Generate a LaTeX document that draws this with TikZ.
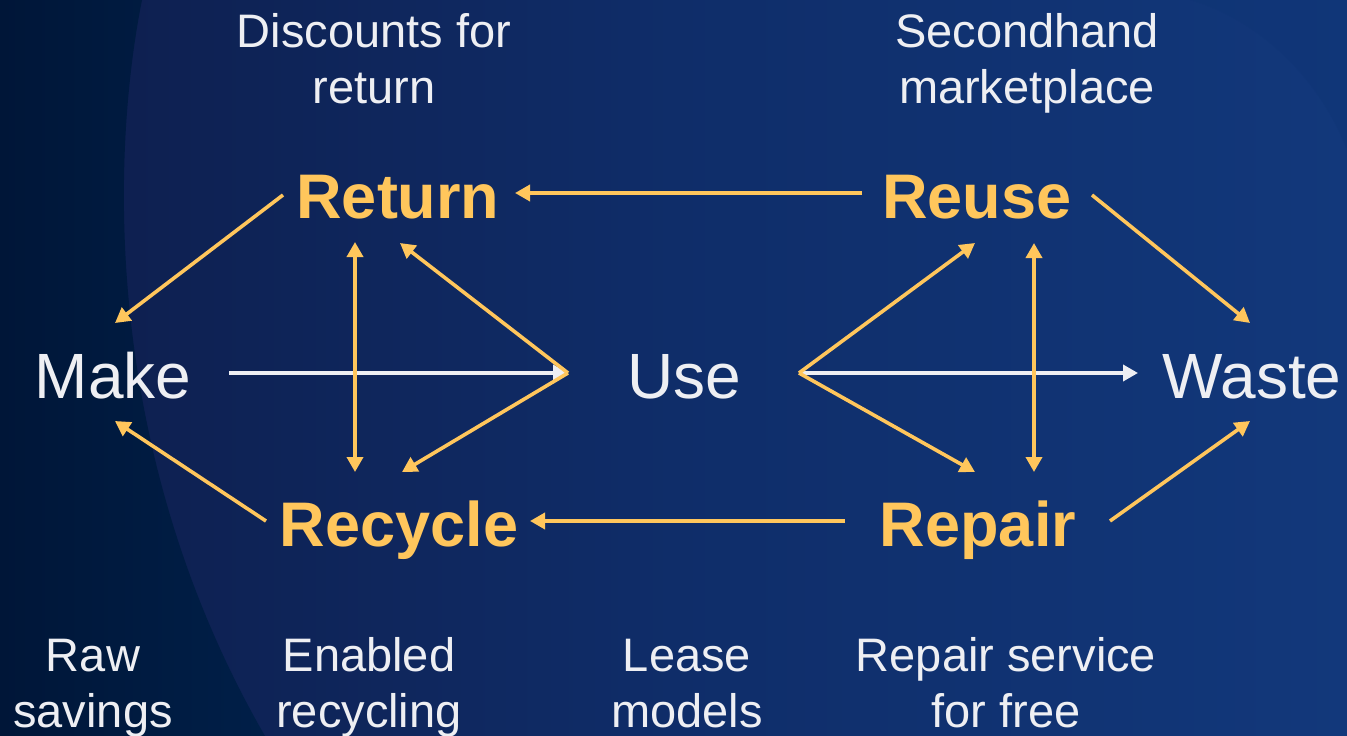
\documentclass[tikz,border=0pt]{standalone}
\usepackage{fontspec}
\setmainfont{Liberation Sans}
\usetikzlibrary{arrows.meta}
\definecolor{bgleft}{HTML}{0E1D4B}
\definecolor{bgmid}{HTML}{0F2D69}
\definecolor{bgright}{HTML}{12387B}
\definecolor{bgdarkA}{HTML}{001638}
\definecolor{bgdarkB}{HTML}{001F48}
\definecolor{bgcorner}{HTML}{0E3474}
\definecolor{gold}{HTML}{FFC65C}
\definecolor{paper}{HTML}{EEEFF3}
\tikzset{
  stage/.style={text=paper, font=\fontsize{64}{70}\selectfont, anchor=base, inner sep=0pt},
  loop/.style={text=gold, font=\fontsize{63}{70}\selectfont\bfseries, anchor=base, inner sep=0pt},
  note/.style={text=paper, font=\fontsize{47}{56}\selectfont, align=center, anchor=base, inner sep=0pt},
  flow/.style={draw=gold, line width=3.6pt, -{Triangle[length=15pt,width=16pt]}},
  both/.style={draw=gold, line width=3.6pt, {Triangle[length=15pt,width=16pt]}-{Triangle[length=15pt,width=16pt]}},
  main/.style={draw=paper, line width=3.6pt, -{Triangle[length=15pt,width=16pt]}}
}
\begin{document}
\begin{tikzpicture}[x=1pt,y=-1pt]
  % background
  \useasboundingbox (0,0) rectangle (1347,736);
  \shade[left color=bgleft, right color=bgright, middle color=bgmid]
    (0,0) rectangle (1347,736);
  \fill[bgcorner, opacity=0.35]
    (1190,0) .. controls (1260,20) and (1320,80) .. (1347,150) -- (1347,0) -- cycle;
  \shade[left color=bgdarkA, right color=bgdarkB]
    (0,0) -- (142,0) .. controls (112,150) and (100,450) .. (265,736) -- (0,736) -- cycle;

  % stages of the linear economy
  \node[stage] (make)  at (113,398) {Make};
  \node[stage] (use)   at (684,398) {Use};
  \node[stage] (waste) at (1252,398) {Waste};

  % circular loops
  \node[loop] (return)  at (398,218) {Return};
  \node[loop] (reuse)   at (977,218) {Reuse};
  \node[loop] (recycle) at (399,546) {Recycle};
  \node[loop] (repair)  at (978,546) {Repair};

  % business model notes
  \node[note] (ndisc)   at (374,103) {Discounts for\\return};
  \node[note] (nsecond) at (1027,103) {Secondhand\\marketplace};
  \node[note] (nraw)    at (93,727)  {Raw\\savings};
  \node[note] (nenable) at (369,727) {Enabled\\recycling};
  \node[note] (nlease)  at (687,727) {Lease\\models};
  \node[note] (nrepair) at (1006,727) {Repair service\\for free};

  % connector end points
  \coordinate (makeT)   at (115,323);
  \coordinate (makeB)   at (115,421);
  \coordinate (makeR)   at (229,373);
  \coordinate (useL)    at (568,373);
  \coordinate (useR)    at (799,373);
  \coordinate (wasteL)  at (1138,373);
  \coordinate (wasteT)  at (1250,323);
  \coordinate (wasteB)  at (1250,421);
  \coordinate (retL)    at (283,195);
  \coordinate (retR)    at (515,193);
  \coordinate (retV)    at (355,242);
  \coordinate (retD)    at (400,243);
  \coordinate (recL)    at (266,521);
  \coordinate (recR)    at (530,521);
  \coordinate (recV)    at (355,472);
  \coordinate (recD)    at (402,472);
  \coordinate (reuL)    at (862,193);
  \coordinate (reuR)    at (1092,195);
  \coordinate (reuD)    at (975,243);
  \coordinate (reuV)    at (1034,243);
  \coordinate (repL)    at (845,521);
  \coordinate (repR)    at (1110,521);
  \coordinate (repD)    at (975,472);
  \coordinate (repV)    at (1034,472);

  % linear flow
  \draw[main] (makeR) -- (useL);
  \draw[main] (useR) -- (wasteL);

  % loops
  \draw[flow] (retL) -- (makeT);
  \draw[flow] (recL) -- (makeB);
  \draw[flow] (reuL) -- (retR);
  \draw[flow] (repL) -- (recR);
  \draw[both] (retV) -- (recV);
  \draw[both] (reuV) -- (repV);
  \draw[flow] (useL) -- (retD);
  \draw[flow] (useL) -- (recD);
  \draw[flow] (useR) -- (reuD);
  \draw[flow] (useR) -- (repD);
  \draw[flow] (reuR) -- (wasteT);
  \draw[flow] (repR) -- (wasteB);
\end{tikzpicture}
\end{document}
